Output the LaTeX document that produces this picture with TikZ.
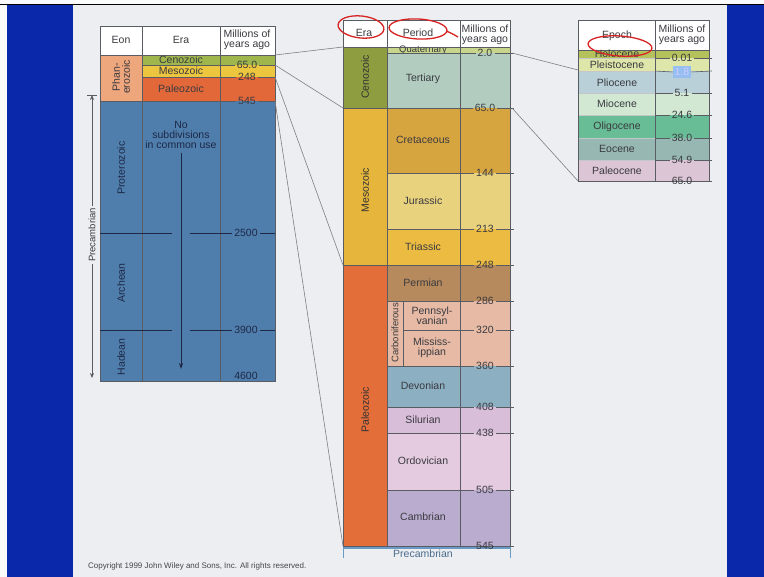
\documentclass[tikz,border=0pt]{standalone}
\usepackage{fontspec}
\setmainfont{Liberation Sans}
\usetikzlibrary{positioning, arrows.meta, calc}

% slide
\definecolor{slideblue}{RGB}{10,40,170}
\definecolor{slidebg}{RGB}{237,238,242}
\definecolor{gridcol}{RGB}{90,92,100}
\definecolor{inkcol}{RGB}{58,58,64}
\definecolor{navyink}{RGB}{28,40,70}
\definecolor{zoomcol}{RGB}{125,127,135}
\definecolor{markred}{RGB}{215,35,35}
% eon table
\definecolor{phaner}{RGB}{238,166,124}
\definecolor{lceno}{RGB}{158,182,76}
\definecolor{lmeso}{RGB}{236,198,62}
\definecolor{lpaleo}{RGB}{226,104,58}
\definecolor{precam}{RGB}{80,126,172}
% period table
\definecolor{mceno}{RGB}{141,157,64}
\definecolor{mmeso}{RGB}{230,182,60}
\definecolor{mpaleo}{RGB}{228,110,58}
\definecolor{quat}{RGB}{200,214,140}
\definecolor{tert}{RGB}{178,205,192}
\definecolor{cret}{RGB}{215,165,64}
\definecolor{jura}{RGB}{232,210,126}
\definecolor{tria}{RGB}{236,188,66}
\definecolor{perm}{RGB}{182,138,92}
\definecolor{carb}{RGB}{230,186,164}
\definecolor{devo}{RGB}{140,175,193}
\definecolor{silu}{RGB}{217,190,217}
\definecolor{ordo}{RGB}{228,203,224}
\definecolor{camb}{RGB}{186,172,207}
\definecolor{mprecam}{RGB}{106,154,198}
% epoch table
\definecolor{holo}{RGB}{181,194,91}
\definecolor{pleis}{RGB}{223,230,170}
\definecolor{plio}{RGB}{185,208,216}
\definecolor{mio}{RGB}{210,232,210}
\definecolor{oligo}{RGB}{105,189,150}
\definecolor{eoc}{RGB}{151,183,179}
\definecolor{paleoc}{RGB}{220,197,213}
\definecolor{hilite}{RGB}{150,190,240}

\begin{document}
\begin{tikzpicture}[x=1pt, y=-1pt, font=\fontsize{10.5}{10}\selectfont,
	lbl/.style={text=inkcol, inner sep=0pt, align=center},
	vlbl/.style={lbl, rotate=90},
	age/.style={text=inkcol, inner sep=2pt},
	cell/.style={draw=gridcol, line width=0.6pt},
	tick/.style={draw=gridcol, line width=0.6pt},
	zoomline/.style={draw=zoomcol, line width=0.6pt},
	redmark/.style={draw=markred, line width=1.3pt}]
	\useasboundingbox (0,0) rectangle (764,577);
	% slide frame
	\fill[white!97!gray] (0,0) rectangle (764,577);
	\fill[slidebg] (73,5) rectangle (727,577);
	\fill[slideblue] (7,5) rectangle (73,577);
	\fill[slideblue] (727,5) rectangle (764,577);
	\draw[black, line width=1.6pt] (0,4.5) -- (764,4.5);

	% eon / era table
	\fill[white] (100,26) rectangle (275,55);
	\fill[phaner] (100,55) rectangle (142,101);
	\fill[lceno] (142,55) rectangle (275,65);
	\fill[lmeso] (142,65) rectangle (275,77);
	\fill[lpaleo] (142,77) rectangle (275,101);
	\fill[precam] (100,101) rectangle (275,381);
	\draw[cell] (100,26) rectangle (275,381);
	\draw[cell] (142,26) -- (142,381) (220,26) -- (220,381) (100,55) -- (275,55) (100,101) -- (142,101);
	\node[lbl] (eonHead) at (121,40) {Eon};
	\node[lbl] (eraHead) at (181,40) {Era};
	\node[lbl] (myaHead) at (247,40) {Millions of\\years ago};
	\node[vlbl] (phanL) at (121,77) {Phan-\\erozoic};
	\foreach \nm/\yy/\txt in {cenoL/60/Cenozoic, mesoL/71/Mesozoic, paleoL/89/Paleozoic}
		\node[lbl] (\nm) at (181,\yy) {\txt};
	\foreach \nm/\yy/\txt in {ageA/65/65.0, ageB/77/248, ageC/101/545}
	{
		\node[age] (\nm) at (247,\yy) {\txt};
		\draw[tick] (142,\yy) -- (\nm.west) (\nm.east) -- (275,\yy);
	}
	\foreach \nm/\yy/\txt in {ageD/233/2500, ageE/330/3900}
	{
		\node[age, text=navyink] (\nm) at (246,\yy) {\txt};
		\draw[tick, draw=navyink] (100,\yy) -- (172,\yy) (190,\yy) -- (\nm.west) (\nm.east) -- (275,\yy);
	}
	\node[age, text=navyink] (ageF) at (246,376) {4600};
	\foreach \nm/\yy/\txt in {protL/168/Proterozoic, archL/283/Archean, hadL/357/Hadean}
		\node[vlbl, text=navyink] (\nm) at (121,\yy) {\txt};
	\node[lbl, text=navyink] (noSub) at (181,135) {No\\subdivisions\\in common use};
	\coordinate (subEnd) at (181,369);
	\draw[navyink, line width=1pt, -{Stealth[length=6pt,width=4pt]}] ([yshift=-4pt]noSub.south) -- (subEnd);
	% precambrian bracket
	\node[vlbl, fill=slidebg, inner sep=2pt, font=\fontsize{9.5}{10}\selectfont] (precL) at (92,235) {Precambrian};
	\coordinate (precTop) at (92,95);
	\coordinate (precBot) at (92,378);
	\draw[gridcol, line width=0.7pt, -{Stealth[length=5pt,width=4pt]}] (precL.east) -- (precTop);
	\draw[gridcol, line width=0.7pt, -{Stealth[length=5pt,width=4pt]}] (precL.west) -- (precBot);
	\draw[gridcol, line width=0.7pt] ([xshift=-5pt]precTop) -- ([xshift=5pt]precTop);

	% era / period table
	\fill[white] (343,20) rectangle (510,47);
	\foreach \ya/\yb/\col in {47/108/mceno, 108/265/mmeso, 265/546/mpaleo}
		\fill[\col] (343,\ya) rectangle (387,\yb);
	\foreach \ya/\yb/\col in {47/53/quat, 53/108/tert, 108/173/cret, 173/229/jura, 229/265/tria, 265/301/perm, 301/366/carb, 366/407/devo, 407/433/silu, 433/490/ordo, 490/546/camb}
		\fill[\col] (387,\ya) rectangle (510,\yb);
	\fill[mprecam] (343,546) rectangle (510,549.5);
	\draw[mprecam, line width=0.8pt] (343,546) -- (343,558) (510,546) -- (510,558);
	\node[lbl, font=\fontsize{9.5}{10}\selectfont] (quatL) at (423,50) {Quaternary};
	\draw[cell] (343,20) rectangle (510,546);
	\draw[cell] (387,20) -- (387,546) (460,20) -- (460,546) (343,47) -- (510,47) (403,301) -- (403,366);
	\draw[cell] (343,108) -- (387,108) (343,265) -- (387,265);
	\node[lbl] (eraHeadM) at (364,33) {Era};
	\node[lbl] (perHead) at (418,33) {Period};
	\node[lbl] (myaHeadM) at (485,35) {Millions of\\years ago};
	\foreach \nm/\yy/\txt in {cenoM/77/Cenozoic, mesoM/190/Mesozoic, paleoM/410/Paleozoic}
		\node[vlbl, text=black!80] (\nm) at (365,\yy) {\txt};
	\foreach \nm/\yy/\txt in {tertL/79/Tertiary, cretL/140/Cretaceous, juraL/201/Jurassic, triaL/247/Triassic, permL/283/Permian, devoL/386/Devonian, siluL/420/Silurian, ordoL/461/Ordovician, cambL/517/Cambrian}
		\node[lbl] (\nm) at (423,\yy) {\txt};
	\node[lbl] (pennL) at (432,316) {Pennsyl-\\vanian};
	\node[lbl] (missL) at (432,348) {Mississ-\\ippian};
	\node[vlbl, font=\fontsize{9.5}{10}\selectfont] (carbL) at (395,333) {Carboniferous};
	\foreach \nm/\yy/\xa/\txt in {mA/53/387/2.0, mB/108/387/65.0, mC/173/387/144, mD/229/387/213, mE/265/387/248, mF/301/387/286, mG/330/403/320, mH/366/387/360, mI/407/387/408, mJ/433/387/438, mK/490/387/505, mL/546/343/545}
	{
		\node[age] (\nm) at (485,\yy) {\txt};
		\draw[tick] (\xa,\yy) -- (\nm.west) (\nm.east) -- (514,\yy);
	}
	\node[lbl, text=mprecam!70!black] (precM) at (423,554) {Precambrian};

	% epoch table
	\fill[white] (578,20) rectangle (709,50);
	\foreach \ya/\yb/\col in {50/58/holo, 58/71/pleis, 71/93/plio, 93/115/mio, 115/138/oligo, 138/160/eoc, 160/181/paleoc}
		\fill[\col] (578,\ya) rectangle (709,\yb);
	\foreach \yy in {58,71,93,115,138,160}
		\draw[gridcol!35, line width=0.5pt] (578,\yy) -- (655,\yy);
	\draw[cell] (578,20) rectangle (709,181);
	\draw[cell] (655,20) -- (655,181) (578,50) -- (709,50);
	\node[lbl] (epochHead) at (617,36) {Epoch};
	\node[lbl] (myaHeadR) at (682,35) {Millions of\\years ago};
	\foreach \nm/\yy/\txt in {holoL/54/Holocene, pleisL/65/Pleistocene, plioL/83/Pliocene, mioL/104/Miocene, oligoL/127/Oligocene, eocL/149/Eocene, paleocL/171/Paleocene}
		\node[lbl] (\nm) at (617,\yy) {\txt};
	\foreach \nm/\yy/\txt in {eA/58/0.01, eC/93/5.1, eD/115/24.6, eE/138/38.0, eF/160/54.9, eG/181/65.0}
	{
		\node[age] (\nm) at (682,\yy) {\txt};
		\draw[tick] (655,\yy) -- (\nm.west) (\nm.east) -- (712,\yy);
	}
	\node[age, fill=hilite, text=white!80!blue] (eB) at (682,72) {1.8};
	\draw[tick] (655,71) -- (eB.west) (eB.east) -- (712,71);

	% zoom lines
	\coordinate (lTop) at (275,55);
	\coordinate (lCen) at (275,65);
	\coordinate (lMes) at (275,77);
	\coordinate (lPal) at (275,101);
	\coordinate (mTop) at (343,47);
	\coordinate (mCen) at (343,108);
	\coordinate (mMes) at (343,265);
	\coordinate (mPal) at (343,546);
	\coordinate (mQua) at (512,53);
	\coordinate (mTer) at (512,108);
	\coordinate (rTop) at (578,70);
	\coordinate (rBot) at (578,181);
	\draw[zoomline] (lTop) -- (mTop);
	\draw[zoomline] (lCen) -- (mCen);
	\draw[zoomline] (lMes) -- (mMes);
	\draw[zoomline] (lPal) -- (mPal);
	\draw[zoomline] (mQua) -- (rTop);
	\draw[zoomline] (mTer) -- (rBot);

	% red pen marks
	\draw[redmark, rotate around={-6:(361,27)}] (361,27) ellipse [x radius=23pt, y radius=11pt];
	\draw[redmark, rotate around={-3:(418,29)}] (418,29) ellipse [x radius=29pt, y radius=10pt];
	\draw[redmark] (446,31) .. controls (451,33) .. (458,37);
	\draw[redmark, rotate around={-4:(620,46)}] (620,46) ellipse [x radius=32pt, y radius=10pt];

	\node[anchor=west, text=gray!55!black, inner sep=0pt, font=\fontsize{8}{9}\selectfont] (copyr) at (88,566) {Copyright 1999 John Wiley and Sons, Inc. All rights reserved.};
\end{tikzpicture}
\end{document}
